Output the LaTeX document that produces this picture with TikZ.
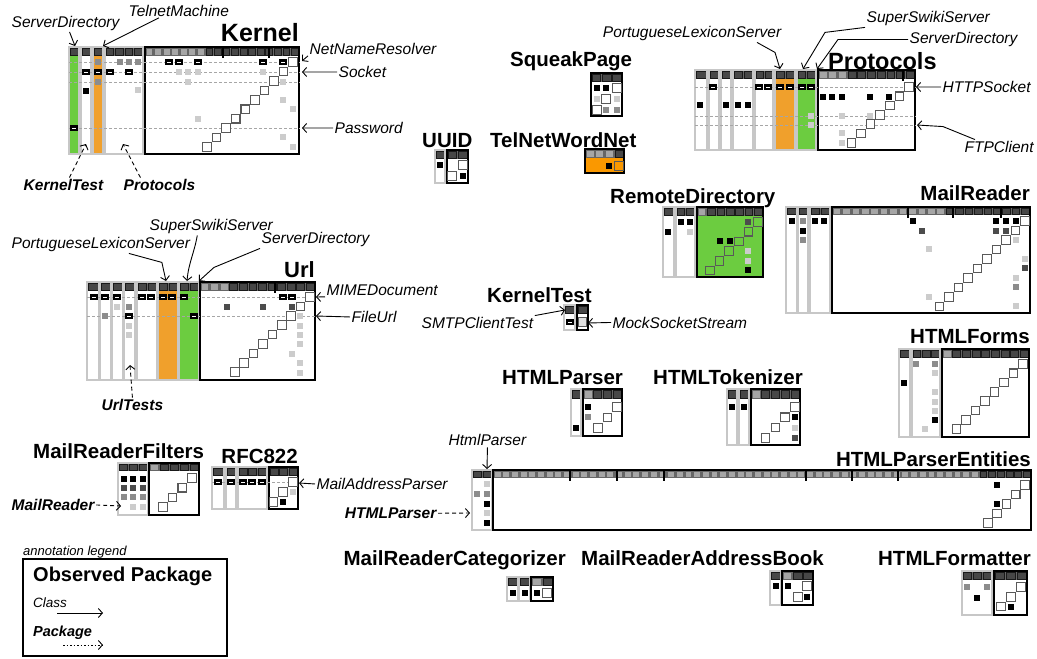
\documentclass[tikz,border=0pt]{standalone}
\usepackage{fontspec}
\setmainfont{Liberation Sans}
\usetikzlibrary{arrows.meta}

\definecolor{grn}{RGB}{108,204,64}
\definecolor{org}{RGB}{240,160,44}
\definecolor{torg}{RGB}{250,152,0}
\colorlet{dk}{black!70}
\colorlet{md}{black!45}
\colorlet{lt}{black!20}

% rows of the current package: header top, header bottom, body bottom
\newcommand{\pkgrows}[3]{\def\pkyt{#1}\def\pkyh{#2}\def\pkyb{#3}}
% one column group: [light header cells] x0 x1 ncols fill border
\newcommand{\pkgcol}[6][0]{%
  \fill[#5] (#2,\pkyh) rectangle (#3,\pkyb);
  \fill[black!60] (#2,\pkyt) rectangle (#3,\pkyh);
  \pgfmathsetmacro\pkcw{(#3-#2)/#4}
  \foreach \i in {1,...,#4}{\filldraw[hcell] (#2+\i*\pkcw-\pkcw+0.9,\pkyt+1.1) rectangle (#2+\i*\pkcw-0.9,\pkyh-1.1);}
  \foreach \j in {#1}{\ifnum\j>0 \filldraw[hlite] (#2+\j*\pkcw-\pkcw+0.9,\pkyt+1.1) rectangle (#2+\j*\pkcw-0.9,\pkyh-1.1);\fi}
  \draw[#6] (#2,\pkyt) rectangle (#3,\pkyb);}
\newcommand{\pdot}[3]{\fill[#3] ({#1},{#2}) ++(-2.8,-2.8) rectangle ++(5.6,5.6);}
\newcommand{\hdot}[2]{\fill ({#1},{#2}) ++(-3.6,-3) rectangle ++(7.2,6);
  \draw[white,line width=0.8pt] ({#1},{#2}) ++(-1.8,0) -- ++(3.6,0);}
\newcommand{\ddsq}[3][]{\filldraw[dsq,#1] ({#2},{#3}) ++(-4.3,-4.3) rectangle ++(8.6,8.6);}
% diagonal: [style] x y n dx dy, from top right down to the left
\newcommand{\diagsq}[6][]{\foreach \k in {1,...,#4}{\ddsq[#1]{#2-(\k-1)*#5}{#3+(\k-1)*#6}}}

\begin{document}
\begin{tikzpicture}[x=1pt,y=-1pt,
  ttl/.style={font=\fontsize{20.5}{24}\selectfont\bfseries,inner sep=0pt},
  lbl/.style={font=\fontsize{15.5}{18}\selectfont\itshape,inner sep=1.5pt},
  plbl/.style={font=\fontsize{15.5}{18}\selectfont\bfseries\itshape,inner sep=1.5pt},
  cls/.style={-{Straight Barb[length=4pt,width=9pt]},line width=0.9pt},
  pkg/.style={cls,dash pattern=on 4pt off 3pt},
  side/.style={draw=black!22,line width=1.6pt},
  mainb/.style={draw=black,line width=1.4pt},
  hcell/.style={fill=black!72,draw=black!90,line width=0.5pt},
  hlite/.style={fill=black!35,draw=black!60,line width=0.5pt},
  sep/.style={draw=black!35,dash pattern=on 3pt off 2pt,line width=0.7pt},
  tick/.style={line width=1.3pt},
  dsq/.style={fill=white,draw=black!65,line width=1.1pt}]
\useasboundingbox (0,0) rectangle (1037,659);

% Kernel
\node[ttl,font=\fontsize{25}{28}\selectfont\bfseries,anchor=base east] (tKernel) at (299,41) {Kernel};
\pkgrows{47}{56}{154}
\pkgcol{69}{79}{1}{grn}{side}
\pkgcol{81}{91}{1}{white}{side}
\pkgcol{93}{103}{1}{org}{side}
\pkgcol{105}{143}{4}{white}{side}
\pkgcol[1,...,7]{145}{299}{18}{white}{mainb}
\draw[tick] (223,47) -- (223,58);
\draw[tick] (269,47) -- (269,58);
\foreach \y in {62,72,82,128}{\draw[sep] (69,\y) -- (300,\y);}
\hdot{74}{128}
\hdot{86}{72}\pdot{86}{91}{black}
\pdot{98}{62}{md}\hdot{98}{72}\pdot{98}{82}{md}
\hdot{110}{72}\pdot{120}{62}{md}\pdot{129}{62}{md}\pdot{138}{62}{md}\hdot{129}{72}\pdot{138}{90}{lt}
\hdot{169}{62}\hdot{179}{62}\hdot{198}{62}\hdot{263}{62}\hdot{283}{62}
\pdot{179}{72}{lt}\pdot{188}{72}{lt}\pdot{198}{72}{lt}\pdot{263}{72}{lt}
\pdot{188}{82}{lt}\pdot{283}{82}{lt}
\pdot{283}{100}{lt}\pdot{293}{109}{lt}\pdot{198}{119}{lt}\pdot{283}{137}{lt}\pdot{293}{147}{lt}
\diagsq{293}{62}{10}{9.55}{9.45}
\node[lbl,anchor=base west] (kSrv) at (10,27) {ServerDirectory};
\node[lbl,anchor=base west] (kTel) at (127,16) {TelnetMachine};
\node[lbl,anchor=base west] (kNet) at (308,54) {NetNameResolver};
\node[lbl,anchor=base west] (kSock) at (337,77.5) {Socket};
\node[lbl,anchor=base west] (kPass) at (333,133.5) {Password};
\node[plbl,anchor=base west] (kTest) at (22,190.5) {KernelTest};
\node[plbl,anchor=base west] (kProt) at (122,190.5) {Protocols};
\coordinate (kSrvE) at (75,46);
\coordinate (kTelE) at (103,46);
\coordinate (kNetE) at (302,61);
\coordinate (kSockE) at (302,72);
\coordinate (kPassE) at (302,128);
\coordinate (kTestE) at (86,144);
\coordinate (kProtE) at (123,144);
\draw[cls] ([xshift=4pt]kSrv.south) -- (kSrvE);
\draw[cls] ([xshift=-20pt]kTel.south) -- (kTelE);
\draw[cls] (kNet.south west) -- (kNetE);
\draw[cls] (kSock.west) -- (kSockE);
\draw[cls] (kPass.west) -- (kPassE);
\draw[pkg] ([xshift=6pt]kTest.north) -- (kTestE);
\draw[pkg] ([xshift=-19pt]kProt.north) -- (kProtE);

% Url
\node[ttl,font=\fontsize{22}{26}\selectfont\bfseries,anchor=base east] (tUrl) at (315,277) {Url};
\pkgrows{282}{291}{380}
\pkgcol{87}{99}{1}{white}{side}
\pkgcol{100}{111}{1}{white}{side}
\pkgcol{112}{123}{1}{white}{side}
\pkgcol{124}{135}{1}{white}{side}
\pkgcol{137}{157}{2}{white}{side}
\pkgcol{158}{178}{2}{org}{side}
\pkgcol{179}{199}{2}{grn}{side}
\pkgcol[1,2,3]{200}{315}{12}{white}{mainb}
\draw[tick] (275,282) -- (275,293);
\foreach \y in {297,316}{\draw[sep] (87,\y) -- (316,\y);}
\foreach \x in {94,105,117,142,151,163,172,184,283,292}{\hdot{\x}{297}}
\pdot{117}{307}{lt}\pdot{129}{307}{md}\pdot{227}{307}{dk}\pdot{263}{307}{dk}\pdot{292}{307}{dk}
\pdot{105}{316}{md}\hdot{129}{316}\hdot{194}{316}
\pdot{129}{326}{lt}\pdot{129}{335}{lt}
\foreach \y in {316,326,335,344,363,373}{\pdot{300}{\y}{lt}}
\pdot{292}{354}{lt}
\diagsq{310}{297}{9}{9.4}{9.4}
\node[lbl,anchor=base west] (uSwi) at (148,230.5) {SuperSwikiServer};
\node[lbl,anchor=base west] (uPor) at (10,248.5) {PortugueseLexiconServer};
\node[lbl,anchor=base west] (uSrv) at (260,243.5) {ServerDirectory};
\node[lbl,anchor=base west] (uMim) at (325,295) {MIMEDocument};
\node[lbl,anchor=base west] (uFil) at (350,322.5) {FileUrl};
\node[plbl,anchor=base west] (uTst) at (100,410.5) {UrlTests};
\coordinate (uSwiE) at (187,281);
\coordinate (uPorE) at (166,281);
\coordinate (uSrvE) at (199,281);
\coordinate (uMimE) at (316,297);
\coordinate (uFilE) at (316,316);
\coordinate (uTstE) at (130,365);
\draw[cls] ([xshift=-14pt]uSwi.south) to[out=-100,in=85] (uSwiE);
\draw[cls] ([xshift=28pt]uPor.south) -- ++(33,9) -- (uPorE);
\draw[cls] (uSrv.south west) -- ++(-46,19) -- (uSrvE);
\draw[cls] (uMim.south west) -- (uMimE);
\draw[cls] (uFil.west) -- (uFilE);
\draw[pkg] (uTst.north) -- (uTstE);

% Protocols
\node[ttl,font=\fontsize{23.5}{27}\selectfont\bfseries,anchor=base west] (tProt) at (828,69) {Protocols};
\pkgrows{70}{79}{150}
\pkgcol{695}{707}{1}{white}{side}
\pkgcol{709}{719}{1}{white}{side}
\pkgcol{721}{731}{1}{white}{side}
\pkgcol{733}{753}{2}{white}{side}
\pkgcol{755}{773}{2}{white}{side}
\pkgcol{775}{795}{2}{org}{side}
\pkgcol{797}{816}{2}{grn}{side}
\pkgcol[1,2,3]{818}{915}{10}{white}{mainb}
\draw[tick] (903,70) -- (903,81);
\foreach \y in {87,116,125}{\draw[sep] (695,\y) -- (916,\y);}
\foreach \x in {713,759,768,780,790,802,811}{\hdot{\x}{87}}
\foreach \x in {823,832,842,870,889}{\pdot{\x}{97}{black}}
\foreach \x in {700,726,738,748}{\pdot{\x}{105}{black}}
\pdot{811}{116}{lt}\pdot{842}{116}{lt}\pdot{870}{116}{lt}\pdot{811}{125}{lt}
\pdot{842}{133}{lt}\pdot{842}{143}{lt}
\diagsq{909}{87}{7}{9.6}{9.3}
\node[lbl,anchor=base east] (pPor) at (783,37.5) {PortugueseLexiconServer};
\node[lbl,anchor=base west] (pSwi) at (865,22.5) {SuperSwikiServer};
\node[lbl,anchor=base west] (pSrv) at (908,43.5) {ServerDirectory};
\node[lbl,anchor=base west] (pHtt) at (941,92.5) {HTTPSocket};
\node[lbl,anchor=base west] (pFtp) at (963,152.5) {FTPClient};
\coordinate (pPorE) at (780,69);
\coordinate (pSwiE) at (803,69);
\coordinate (pSrvE) at (817,69);
\coordinate (pHttE) at (916,87);
\coordinate (pFtpE) at (917,125);
\draw[cls] ([xshift=-26pt]pPor.south east) -- ++(18,10) -- (pPorE);
\draw[cls] (pSwi.south west) -- ++(-40,5) -- (pSwiE);
\draw[cls] (pSrv.west) -- ++(-70,0) -- (pSrvE);
\draw[cls] (pHtt.west) -- (pHttE);
\draw[cls] ([xshift=12pt]pFtp.north west) -- ++(-32,-13) -- (pFtpE);

% SqueakPage, UUID, TelNetWordNet
\node[ttl,anchor=base west] (tSqu) at (510,66) {SqueakPage};
\pkgrows{73}{82}{116}
\pkgcol{591}{622}{3}{white}{mainb}
\pdot{597}{88}{black}\pdot{606}{88}{black}\ddsq{617}{88}
\pdot{597}{99}{lt}\ddsq{606}{99}\pdot{617}{99}{lt}
\ddsq{597}{110}\pdot{606}{110}{md}\pdot{617}{110}{md}
\node[ttl,anchor=base west] (tUui) at (422,147) {UUID};
\pkgrows{150}{159}{183}
\pkgcol{435}{445}{1}{white}{side}
\pkgcol{447}{468}{2}{white}{mainb}
\pdot{440}{165}{black}\ddsq{463}{165}\ddsq{452}{176}\pdot{463}{176}{black}
\node[ttl,anchor=base west] (tTel) at (490,147) {TelNetWordNet};
\pkgrows{149}{158}{173}
\pkgcol[1,2,3]{585}{624}{4}{torg}{mainb}
\pdot{609}{166}{black}\ddsq[fill=torg]{619}{166}

% RemoteDirectory
\node[ttl,anchor=base west] (tRem) at (610,203) {RemoteDirectory};
\pkgrows{207}{216}{277}
\pkgcol{663}{674}{1}{white}{side}
\pkgcol{676}{695}{2}{white}{side}
\pkgcol[1]{697}{763}{7}{grn}{mainb}
\pdot{668}{232}{black}\pdot{681}{222}{black}\pdot{690}{222}{black}\pdot{690}{232}{lt}
\pdot{748}{222}{dk}\pdot{720}{241}{black}\pdot{730}{241}{black}
\pdot{748}{251}{lt}\pdot{748}{261}{lt}\pdot{748}{270}{black}
\diagsq[fill=grn]{758}{222}{6}{9.6}{9.7}

% MailReader
\node[ttl,anchor=base east] (tMai) at (1030,200) {MailReader};
\pkgrows{207}{215}{313}
\pkgcol{786}{797}{1}{white}{side}
\pkgcol{798}{808}{1}{white}{side}
\pkgcol{810}{830}{2}{white}{side}
\pkgcol[1,...,12]{832}{1030}{21}{white}{mainb}
\foreach \x in {908,953,1001}{\draw[tick] (\x,207) -- (\x,218);}
\foreach \x in {792,815,824,913,996,1006,1016}{\pdot{\x}{221}{black}}
\pdot{803}{221}{md}
\pdot{803}{231}{black}\pdot{922}{231}{dk}\pdot{996}{231}{dk}\pdot{1006}{231}{dk}
\pdot{803}{240}{md}\pdot{1016}{240}{lt}
\pdot{929}{249}{lt}\pdot{1025}{259}{lt}\pdot{1025}{268}{dk}\pdot{1016}{278}{lt}
\pdot{1016}{287}{md}\pdot{929}{297}{lt}\pdot{1016}{306}{lt}
\diagsq{1025}{221}{10}{9.5}{9.5}

% KernelTest
\node[ttl,anchor=base west] (tKte) at (487,302) {KernelTest};
\pkgrows{305}{314}{330}
\pkgcol{564}{575}{1}{white}{side}
\pkgcol{577}{588}{1}{white}{mainb}
\hdot{570}{322}\ddsq[fill=black!12]{582.5}{322}
\node[lbl,anchor=base west] (ktSmt) at (420,328.5) {SMTPClientTest};
\node[lbl,anchor=base west] (ktMoc) at (611,328) {MockSocketStream};
\coordinate (ktSmtE) at (565,310);
\coordinate (ktMocE) at (588,323);
\draw[cls] (ktSmt.north east) -- (ktSmtE);
\draw[cls] (ktMoc.west) -- (ktMocE);

% HTMLParser, HTMLTokenizer
\node[ttl,anchor=base west] (tHpa) at (502,384) {HTMLParser};
\pkgrows{389}{399}{436}
\pkgcol{571}{581}{1}{white}{side}
\pkgcol[1]{583}{622}{4}{white}{mainb}
\pdot{588}{407}{black}\pdot{588}{417}{md}\pdot{576}{428}{black}
\diagsq{617}{407}{3}{9.6}{10.5}
\node[ttl,anchor=base east] (tHto) at (803,384) {HTMLTokenizer};
\pkgrows{389}{399}{445}
\pkgcol{727}{737}{1}{white}{side}
\pkgcol{739}{749}{1}{white}{side}
\pkgcol[1]{751}{800}{5}{white}{mainb}
\pdot{732}{407}{black}\pdot{744}{407}{black}
\pdot{795}{417}{black}\pdot{795}{428}{lt}\pdot{795}{438}{dk}
\diagsq{795}{407}{4}{9.8}{10.3}

% HTMLForms
\node[ttl,anchor=base east] (tHfo) at (1030,343) {HTMLForms};
\pkgrows{349}{358}{437}
\pkgcol{899}{910}{1}{white}{side}
\pkgcol{912}{940}{3}{white}{side}
\pkgcol[1]{942}{1029}{9}{white}{mainb}
\pdot{904}{383}{black}\pdot{916}{364}{md}\pdot{935}{364}{md}
\foreach \y in {373,392,402,411}{\pdot{935}{\y}{lt}}
\pdot{935}{420}{black}\pdot{925}{429}{lt}
\diagsq{1023}{364}{8}{9.5}{9.3}

% HTMLParserEntities
\node[ttl,anchor=base east] (tHpe) at (1031,466) {HTMLParserEntities};
\pkgrows{470}{478}{530}
\pkgcol{472}{492}{2}{white}{side}
\pkgcol[1,...,56]{493}{1031}{62}{white}{mainb}
\foreach \x in {570,617,664,806,852,898}{\draw[tick] (\x,470) -- (\x,481);}
\pdot{487}{484}{lt}\pdot{477}{494}{md}\pdot{487}{494}{md}\pdot{487}{504}{black}
\pdot{487}{513}{lt}\pdot{487}{523}{black}
\pdot{997}{485}{black}\pdot{997}{504}{black}
\diagsq{1025}{485}{5}{9.3}{9.5}
\node[lbl,anchor=base west] (eHtm) at (447,445.5) {HtmlParser};
\node[plbl,anchor=base east] (eHtp) at (438,518.5) {HTMLParser};
\coordinate (eHtmE) at (487,469);
\coordinate (eHtpE) at (470,513);
\draw[cls] (eHtm.south) -- (eHtmE);
\draw[pkg] (eHtp.east) -- (eHtpE);

% MailReaderFilters, RFC822
\node[ttl,anchor=base west] (tMrf) at (33,458) {MailReaderFilters};
\pkgrows{463}{471}{515}
\pkgcol{118}{148}{3}{white}{side}
\pkgcol[1]{149}{199}{5}{white}{mainb}
\foreach \x in {124,133,143}{\pdot{\x}{479}{black}\pdot{\x}{488}{dk}\pdot{\x}{497}{md}}
\pdot{133}{507}{lt}\pdot{143}{507}{lt}
\diagsq{192}{478}{4}{9.7}{9.7}
\node[plbl,anchor=base west] (fMai) at (10,510.5) {MailReader};
\coordinate (fMaiE) at (121,506);
\draw[pkg] (fMai.east) -- (fMaiE);
\node[ttl,anchor=base east] (tRfc) at (298,463) {RFC822};
\pkgrows{467}{476}{509}
\pkgcol{212}{224}{1}{white}{side}
\pkgcol{226}{236}{1}{white}{side}
\pkgcol{238}{267}{3}{white}{side}
\pkgcol{269}{298}{3}{white}{mainb}
\draw[sep] (212,482) -- (298,482);
\foreach \x in {218,231,243,252,262}{\hdot{\x}{482}}
\pdot{293}{492}{lt}\pdot{283}{502}{black}
\diagsq{293}{482}{3}{9.8}{10}
\node[lbl,anchor=base west] (rAdd) at (315,489.5) {MailAddressParser};
\coordinate (rAddE) at (299,483);
\draw[cls] (rAdd.west) -- (rAddE);

% bottom row
\node[ttl,anchor=base east] (tMrc) at (566,565) {MailReaderCategorizer};
\pkgrows{577}{586}{601}
\pkgcol{507}{518}{1}{white}{side}
\pkgcol{519}{530}{1}{white}{side}
\pkgcol[1]{531}{553}{2}{white}{mainb}
\pdot{513}{593}{black}\pdot{525}{593}{black}\pdot{537}{593}{black}\ddsq{547}{593}
\node[ttl,anchor=base west] (tMra) at (581,565) {MailReaderAddressBook};
\pkgrows{571}{580}{605}
\pkgcol{770}{781}{1}{white}{side}
\pkgcol[1]{782}{813}{3}{white}{mainb}
\pdot{776}{586}{black}\pdot{788}{586}{black}\ddsq{807}{586}\ddsq{798}{597}\pdot{807}{597}{black}
\node[ttl,anchor=base east] (tHtf) at (1031,565) {HTMLFormatter};
\pkgrows{571}{580}{615}
\pkgcol{962}{992}{3}{white}{side}
\pkgcol{994}{1027}{3}{white}{mainb}
\pdot{967}{587}{md}\pdot{987}{587}{md}\pdot{977}{598}{black}
\diagsq{1021}{587}{3}{10}{9.8}
\pdot{1011}{607}{black}

% annotation legend
\node[lbl,font=\fontsize{13}{15}\selectfont\itshape,anchor=base west,inner sep=0pt] (lgTit) at (23,555) {annotation legend};
\draw[line width=1.2pt] (23,559) rectangle (227,656);
\node[ttl,font=\fontsize{20}{24}\selectfont\bfseries,anchor=base west] (lgObs) at (33,581) {Observed Package};
\node[lbl,font=\fontsize{13.5}{16}\selectfont\itshape,anchor=base west,inner sep=0pt] (lgCls) at (33,607) {Class};
\node[plbl,font=\fontsize{14.5}{17}\selectfont\bfseries\itshape,anchor=base west,inner sep=0pt] (lgPkg) at (33,636) {Package};
\coordinate (lgC1) at (57,613);
\coordinate (lgC2) at (103,613);
\coordinate (lgP1) at (63,645);
\coordinate (lgP2) at (103,645);
\draw[cls] (lgC1) -- (lgC2);
\draw[cls,dash pattern=on 1.5pt off 2pt] (lgP1) -- (lgP2);
\end{tikzpicture}
\end{document}
